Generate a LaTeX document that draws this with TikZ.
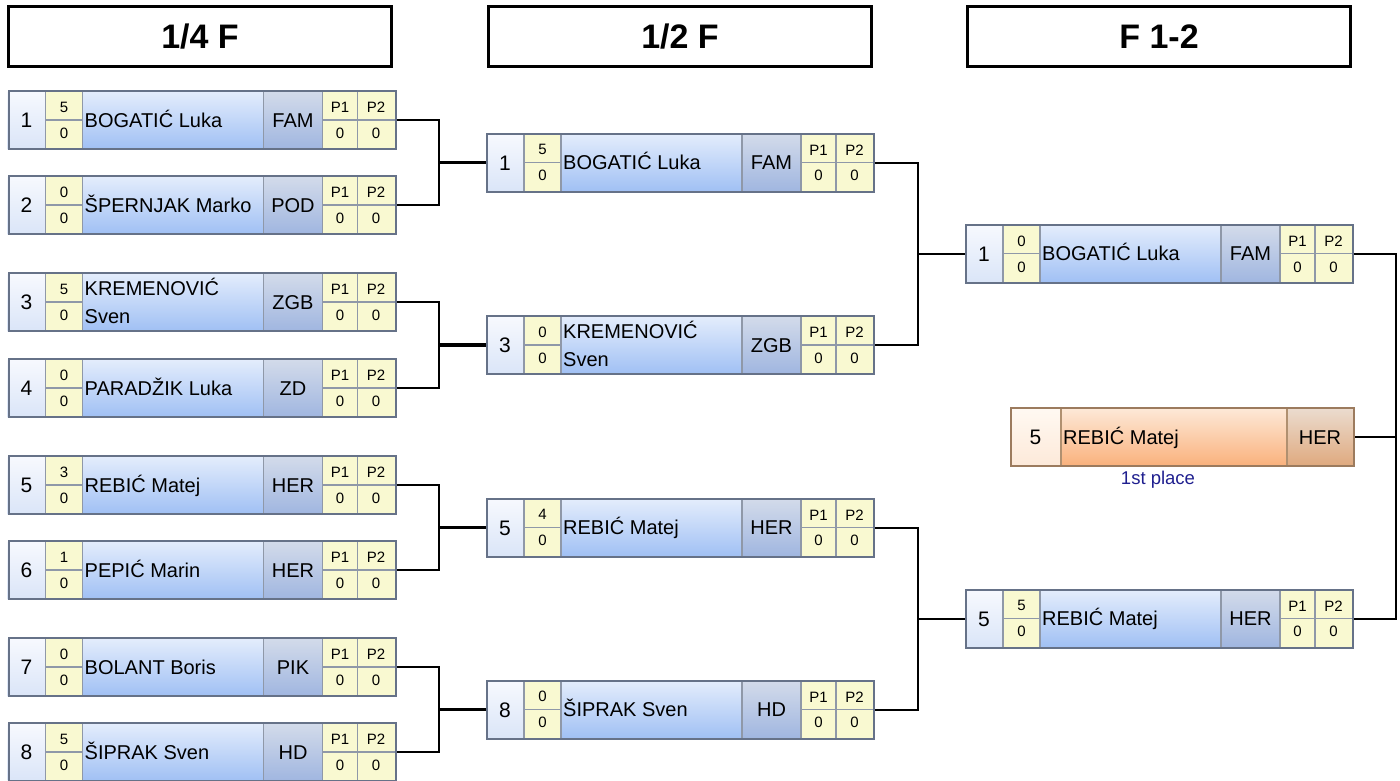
\documentclass[tikz,border=0pt]{standalone}
\usepackage{fontspec}
\setmainfont{Liberation Sans}
\definecolor{seedtop}{HTML}{F7F9FE}
\definecolor{seedbot}{HTML}{DAE5F8}
\definecolor{nametop}{HTML}{E4EDFC}
\definecolor{namebot}{HTML}{A0C0F4}
\definecolor{clubtop}{HTML}{D3DBEA}
\definecolor{clubbot}{HTML}{A0B6E0}
\definecolor{ylw}{HTML}{F9F9D1}
\definecolor{boxline}{HTML}{667288}
\definecolor{sepline}{HTML}{8F98A8}
\definecolor{oseedtop}{HTML}{FFF9F2}
\definecolor{oseedbot}{HTML}{FDE9D9}
\definecolor{onametop}{HTML}{FDE9D8}
\definecolor{onamebot}{HTML}{FAB17C}
\definecolor{oclubtop}{HTML}{EBDCCF}
\definecolor{oclubbot}{HTML}{DFA97E}
\definecolor{oline}{HTML}{9C7B5E}
\definecolor{osep}{HTML}{B09070}
\definecolor{navy}{HTML}{1F1F8F}
\tikzset{
  frame/.style={draw=boxline, line width=2pt, minimum width=387pt, minimum height=58pt, anchor=west, inner sep=0pt},
  oframe/.style={draw=oline, line width=2pt, minimum width=343pt, minimum height=58pt, anchor=west, inner sep=0pt},
  cellsep/.style={draw=sepline, line width=1.2pt},
  ocellsep/.style={draw=osep, line width=1.2pt},
  seedcell/.style={top color=seedtop, bottom color=seedbot},
  namecell/.style={top color=nametop, bottom color=namebot},
  clubcell/.style={top color=clubtop, bottom color=clubbot},
  big/.style={font=\fontsize{20}{23}\selectfont, inner sep=0pt, text height=14.3pt, text depth=0pt},
  seedtxt/.style={font=\fontsize{21}{24}\selectfont, inner sep=0pt, text height=15pt, text depth=0pt},
  small/.style={font=\fontsize{15}{18}\selectfont, inner sep=0pt, text height=10.8pt, text depth=0pt},
  hdr/.style={draw=black, line width=3pt, minimum width=383pt, minimum height=60pt, inner sep=0pt, font=\fontsize{34}{40}\selectfont\bfseries},
  conn/.style={draw=black, line width=2pt},
  connthick/.style={draw=black, line width=3.5pt},
  place/.style={font=\fontsize{18.5}{22}\selectfont, text=navy, inner sep=0pt}
}
\newcommand\nm[1]{\node[big,anchor=west] at (77,0) {#1};}
\newcommand\nmm[2]{\node[big,anchor=west] at (77,-14) {#1};\node[big,anchor=west] at (77,14) {#2};}
% #1 node name, #2 x, #3 y, #4 seed, #5 score top, #6 score bottom, #7 name code, #8 club
\newcommand\pl[8]{%
\begin{scope}[shift={(#2,#3)}]
  \path[seedcell] (0,-29) rectangle (38,29);
  \path[fill=ylw] (38,-29) rectangle (75,29);
  \path[namecell] (75,-29) rectangle (256,29);
  \path[clubcell] (256,-29) rectangle (315,29);
  \path[fill=ylw] (315,-29) rectangle (387,29);
  \draw[cellsep] (38,-29) -- (38,29) (75,-29) -- (75,29) (256,-29) -- (256,29)
     (315,-29) -- (315,29) (350,-29) -- (350,29) (38,0) -- (75,0) (315,0) -- (387,0);
  \node[seedtxt] at (19,0) {#4};
  \node[small] at (56.5,-13) {#5};
  \node[small] at (56.5,13) {#6};
  #7
  \node[big] at (285.5,0) {#8};
  \node[small] at (332.5,-12.5) {P1};
  \node[small] at (368.5,-12.5) {P2};
  \node[small] at (332.5,13) {0};
  \node[small] at (368.5,13) {0};
  \node[frame] (#1) at (0,0) {};
\end{scope}}
\begin{document}
\begin{tikzpicture}[x=1pt,y=-1pt]
\useasboundingbox (0,0) rectangle (1400,780);
% headers
\node[hdr] (h1) at (200,36.5) {1/4 F};
\node[hdr] (h2) at (680,36.5) {1/2 F};
\node[hdr] (h3) at (1159,36.5) {F 1-2};
% quarter finals
\pl{q1}{7.5}{120}{1}{5}{0}{\nm{BOGATIĆ Luka}}{FAM}
\pl{q2}{7.5}{205}{2}{0}{0}{\nm{ŠPERNJAK Marko}}{POD}
\pl{q3}{7.5}{302}{3}{5}{0}{\nmm{KREMENOVIĆ}{Sven}}{ZGB}
\pl{q4}{7.5}{388}{4}{0}{0}{\nm{PARADŽIK Luka}}{ZD}
\pl{q5}{7.5}{485}{5}{3}{0}{\nm{REBIĆ Matej}}{HER}
\pl{q6}{7.5}{570}{6}{1}{0}{\nm{PEPIĆ Marin}}{HER}
\pl{q7}{7.5}{667}{7}{0}{0}{\nm{BOLANT Boris}}{PIK}
\pl{q8}{7.5}{752}{8}{5}{0}{\nm{ŠIPRAK Sven}}{HD}
% semi finals
\pl{s1}{486}{162.5}{1}{5}{0}{\nm{BOGATIĆ Luka}}{FAM}
\pl{s2}{486}{345}{3}{0}{0}{\nmm{KREMENOVIĆ}{Sven}}{ZGB}
\pl{s3}{486}{527.5}{5}{4}{0}{\nm{REBIĆ Matej}}{HER}
\pl{s4}{486}{709.5}{8}{0}{0}{\nm{ŠIPRAK Sven}}{HD}
% final
\pl{f1}{965}{253.75}{1}{0}{0}{\nm{BOGATIĆ Luka}}{FAM}
\pl{f2}{965}{618.5}{5}{5}{0}{\nm{REBIĆ Matej}}{HER}
% winner
\begin{scope}[shift={(1010,437)}]
  \path[top color=oseedtop, bottom color=oseedbot] (0,-29) rectangle (51,29);
  \path[top color=onametop, bottom color=onamebot] (51,-29) rectangle (277,29);
  \path[top color=oclubtop, bottom color=oclubbot] (277,-29) rectangle (343,29);
  \draw[ocellsep] (51,-29) -- (51,29) (277,-29) -- (277,29);
  \node[seedtxt] at (25.5,0) {5};
  \node[big,anchor=west] at (53,0) {REBIĆ Matej};
  \node[big] at (310,0) {HER};
  \node[oframe] (w) at (0,0) {};
\end{scope}
\node[place] (lbl) at (1158,480) {1st place};
% junctions
\coordinate (j1) at (439,162.5);
\coordinate (j2) at (439,345);
\coordinate (j3) at (439,527.5);
\coordinate (j4) at (439,709.5);
\coordinate (k1) at (918,253.75);
\coordinate (k2) at (918,618.5);
\coordinate (m1) at (1396,437);
% connectors
\draw[conn] (q1.east) -| (j1) |- (q2.east);
\draw[conn] (q3.east) -| (j2) |- (q4.east);
\draw[conn] (q5.east) -| (j3) |- (q6.east);
\draw[conn] (q7.east) -| (j4) |- (q8.east);
\draw[connthick] (j1) -- (s1.west);
\draw[connthick] (j2) -- (s2.west);
\draw[connthick] (j3) -- (s3.west);
\draw[connthick] (j4) -- (s4.west);
\draw[conn] (s1.east) -| (k1) |- (s2.east);
\draw[conn] (s3.east) -| (k2) |- (s4.east);
\draw[conn] (k1) -- (f1.west);
\draw[conn] (k2) -- (f2.west);
\draw[conn] (f1.east) -| (m1) |- (f2.east);
\draw[conn] (w.east) -- (m1);
\end{tikzpicture}
\end{document}
